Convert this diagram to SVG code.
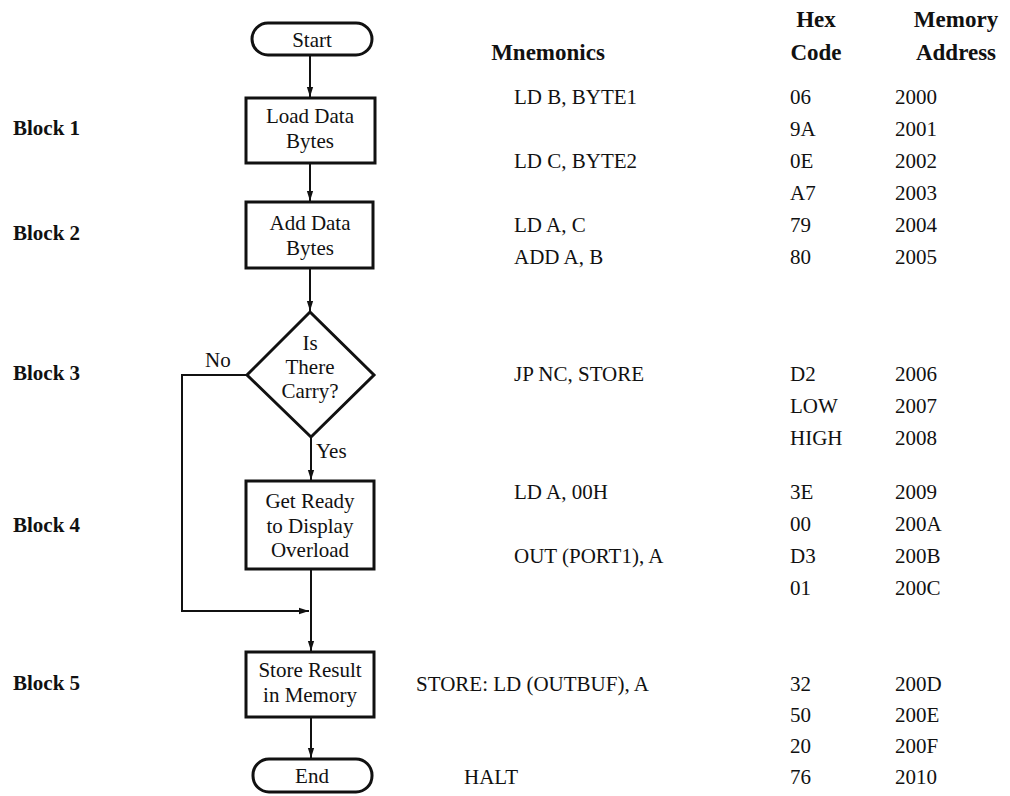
<svg xmlns="http://www.w3.org/2000/svg" width="1010" height="796" viewBox="0 0 1010 796">
<defs>
<marker id="ah" viewBox="0 0 10 10" refX="10" refY="5" markerWidth="10" markerHeight="9" markerUnits="userSpaceOnUse" orient="auto" preserveAspectRatio="none">
<path d="M0,1.5 L10,5 L0,8.5 Z" fill="#111"/>
</marker>
<style>
.box{fill:#fff;stroke:#111;stroke-width:3}
.ln{fill:none;stroke:#111;stroke-width:2}
.t{font-family:"Liberation Serif","Times New Roman",serif;font-size:21px;fill:#111}
.c{text-anchor:middle}
.b{font-family:"Liberation Serif","Times New Roman",serif;font-size:21px;font-weight:bold;fill:#111}
.h{font-family:"Liberation Serif","Times New Roman",serif;font-size:23px;font-weight:bold;fill:#111;text-anchor:middle}
.d{font-family:"Liberation Serif","Times New Roman",serif;font-size:21px;fill:#111}
</style>
</defs>
<rect width="1010" height="796" fill="#fff"/>

<g id="connectors">
<line class="ln" x1="310" y1="55" x2="310" y2="97" marker-end="url(#ah)"/>
<line class="ln" x1="310" y1="163" x2="310" y2="201" marker-end="url(#ah)"/>
<line class="ln" x1="310" y1="268" x2="310" y2="311" marker-end="url(#ah)"/>
<line class="ln" x1="311" y1="437" x2="311" y2="480" marker-end="url(#ah)"/>
<line class="ln" x1="311" y1="569" x2="311" y2="651" marker-end="url(#ah)"/>
<polyline class="ln" points="247,375 182,375 182,611 309,611" marker-end="url(#ah)"/>
<line class="ln" x1="311" y1="717" x2="311" y2="758" marker-end="url(#ah)"/>
<text class="t" x="205" y="367">No</text>
<text class="t" x="316" y="458">Yes</text>
</g>

<g id="start">
<rect class="box" x="252" y="23" width="120" height="32" rx="16"/>
<text class="t c" x="312" y="47">Start</text>
</g>
<g id="load">
<rect class="box" x="246" y="98" width="129" height="65"/>
<text class="t c" x="310" y="123">Load Data</text>
<text class="t c" x="310" y="148">Bytes</text>
</g>
<g id="add">
<rect class="box" x="246" y="202" width="127" height="66"/>
<text class="t c" x="310" y="230">Add Data</text>
<text class="t c" x="310" y="255">Bytes</text>
</g>
<g id="carry">
<polygon class="box" points="310,312 374,375 311,437 247,375"/>
<text class="t c" x="310" y="350">Is</text>
<text class="t c" x="310" y="374">There</text>
<text class="t c" x="310" y="398">Carry?</text>
</g>
<g id="ready">
<rect class="box" x="246" y="481" width="128" height="88"/>
<text class="t c" x="310" y="508">Get Ready</text>
<text class="t c" x="310" y="533">to Display</text>
<text class="t c" x="310" y="557">Overload</text>
</g>
<g id="store">
<rect class="box" x="246" y="652" width="128" height="65"/>
<text class="t c" x="310" y="677">Store Result</text>
<text class="t c" x="310" y="702">in Memory</text>
</g>
<g id="end">
<rect class="box" x="253" y="759" width="119" height="33" rx="16"/>
<text class="t c" x="312" y="783">End</text>
</g>

<g id="block-labels">
<text class="b" x="13" y="135">Block 1</text>
<text class="b" x="13" y="240">Block 2</text>
<text class="b" x="13" y="380">Block 3</text>
<text class="b" x="13" y="532">Block 4</text>
<text class="b" x="13" y="690">Block 5</text>
</g>

<g id="table-header">
<text class="h" x="548" y="60">Mnemonics</text>
<text class="h" x="816" y="27">Hex</text>
<text class="h" x="816" y="60">Code</text>
<text class="h" x="956" y="27">Memory</text>
<text class="h" x="956" y="60">Address</text>
</g>

<g id="mnemonics">
<text class="d" x="514" y="104">LD B, BYTE1</text>
<text class="d" x="514" y="168">LD C, BYTE2</text>
<text class="d" x="514" y="232">LD A, C</text>
<text class="d" x="514" y="264">ADD A, B</text>
<text class="d" x="514" y="381">JP NC, STORE</text>
<text class="d" x="514" y="499">LD A, 00H</text>
<text class="d" x="514" y="563">OUT (PORT1), A</text>
<text class="d" x="416" y="691">STORE: LD (OUTBUF), A</text>
<text class="d" x="464" y="784">HALT</text>
</g>

<g id="hex">
<text class="d" x="790" y="104">06</text>
<text class="d" x="790" y="136">9A</text>
<text class="d" x="790" y="168">0E</text>
<text class="d" x="790" y="200">A7</text>
<text class="d" x="790" y="232">79</text>
<text class="d" x="790" y="264">80</text>
<text class="d" x="790" y="381">D2</text>
<text class="d" x="790" y="413">LOW</text>
<text class="d" x="790" y="445">HIGH</text>
<text class="d" x="790" y="499">3E</text>
<text class="d" x="790" y="531">00</text>
<text class="d" x="790" y="563">D3</text>
<text class="d" x="790" y="595">01</text>
<text class="d" x="790" y="691">32</text>
<text class="d" x="790" y="722">50</text>
<text class="d" x="790" y="753">20</text>
<text class="d" x="790" y="784">76</text>
</g>

<g id="address">
<text class="d" x="895" y="104">2000</text>
<text class="d" x="895" y="136">2001</text>
<text class="d" x="895" y="168">2002</text>
<text class="d" x="895" y="200">2003</text>
<text class="d" x="895" y="232">2004</text>
<text class="d" x="895" y="264">2005</text>
<text class="d" x="895" y="381">2006</text>
<text class="d" x="895" y="413">2007</text>
<text class="d" x="895" y="445">2008</text>
<text class="d" x="895" y="499">2009</text>
<text class="d" x="895" y="531">200A</text>
<text class="d" x="895" y="563">200B</text>
<text class="d" x="895" y="595">200C</text>
<text class="d" x="895" y="691">200D</text>
<text class="d" x="895" y="722">200E</text>
<text class="d" x="895" y="753">200F</text>
<text class="d" x="895" y="784">2010</text>
</g>
</svg>
